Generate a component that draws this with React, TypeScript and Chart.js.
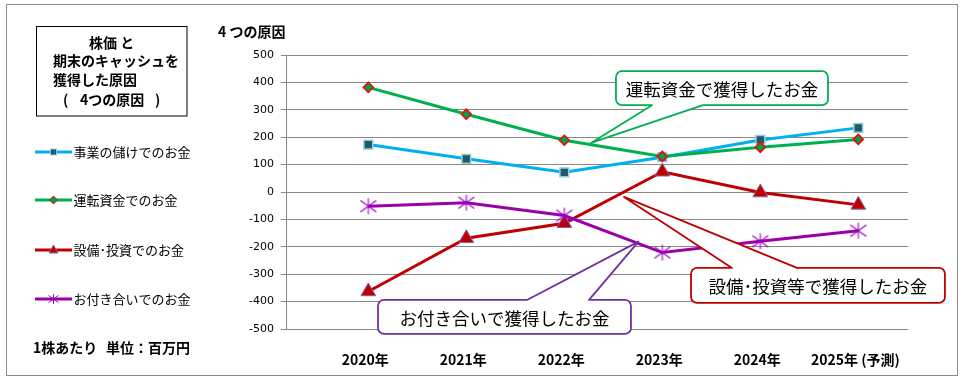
import { useEffect, useRef } from 'react';
import { Chart, registerables } from 'chart.js';

Chart.register(...registerables);

// ---------- data ----------
const categories = ['2020年', '2021年', '2022年', '2023年', '2024年', '2025年 (予測)'];
const seriesNames = ['事業の儲けでのお金', '運転資金でのお金', '設備･投資でのお金', 'お付き合いでのお金'];
const businessValues = [173, 121, 72, 127, 190, 234];
const workingCapitalValues = [382, 284, 189, 130, 163, 192];
const investmentValues = [-363, -169, -114, 74, -2, -47];
const relationshipValues = [-52, -39, -86, -221, -180, -141];
const yMin = -500;
const yMax = 500;
const yStep = 100;

// ---------- texts ----------
const chartTitle = '4 つの原因';
const boxLines = ['株価 と', '期末のキャッシュを', '獲得した原因'];
const unitPartA = '1株あたり';
const unitPartB = '単位：百万円';

// callouts anchored in data space (x = category index, y = value)
const callouts = [
  { text: '運転資金で獲得したお金', color: '#00B050', box: [2.527, 441, 4.691, 317], side: 'bottom', base: [2.895, 3.415], tip: [2.272, 179] },
  { text: '設備･投資等で獲得したお金', color: '#C00000', box: [3.293, -277, 5.884, -405], side: 'top', base: [3.711, 4.374], tip: [2.609, -18] },
  { text: 'お付き合いで獲得したお金', color: '#7030A0', box: [0.099, -394, 2.68, -518], side: 'top', base: [1.619, 2.252], tip: [2.757, -181] },
];

const JP = '"Noto Sans CJK JP", sans-serif';
const STAR_COLOR = '#9A00C4';

const toPoints = (vals: number[]) => vals.map((v, i) => ({ x: i, y: v }));

function strokeStar(g: CanvasRenderingContext2D, x: number, y: number, r: number, color: string, lw: number) {
  g.save();
  g.strokeStyle = color;
  g.lineWidth = lw;
  g.beginPath();
  g.moveTo(x, y - r);
  g.lineTo(x, y + r);
  const dx = r, dy = r * 0.72;
  g.moveTo(x - dx, y - dy);
  g.lineTo(x + dx, y + dy);
  g.moveTo(x + dx, y - dy);
  g.lineTo(x - dx, y + dy);
  g.stroke();
  g.restore();
}

function makeStar(size: number, color: string) {
  const c = document.createElement('canvas');
  c.width = size;
  c.height = size;
  const g = c.getContext('2d')!;
  strokeStar(g, size / 2, size / 2, size / 2 - 1, color, 1.1);
  return c;
}

function calloutPath(ctx: CanvasRenderingContext2D, l: number, t: number, r: number, b: number, rad: number,
  side: string, b1: number, b2: number, tx: number, ty: number) {
  ctx.beginPath();
  ctx.moveTo(l + rad, t);
  if (side === 'top') { ctx.lineTo(b1, t); ctx.lineTo(tx, ty); ctx.lineTo(b2, t); }
  ctx.lineTo(r - rad, t);
  ctx.arcTo(r, t, r, t + rad, rad);
  ctx.lineTo(r, b - rad);
  ctx.arcTo(r, b, r - rad, b, rad);
  if (side === 'bottom') { ctx.lineTo(b2, b); ctx.lineTo(tx, ty); ctx.lineTo(b1, b); }
  ctx.lineTo(l + rad, b);
  ctx.arcTo(l, b, l, b - rad, rad);
  ctx.lineTo(l, t + rad);
  ctx.arcTo(l, t, l + rad, t, rad);
  ctx.closePath();
}

function legendMarker(ctx: CanvasRenderingContext2D, i: number, x: number, y: number) {
  ctx.save();
  ctx.lineWidth = 1;
  if (i === 0) {
    ctx.fillStyle = '#215968';
    ctx.strokeStyle = '#93CDDD';
    ctx.fillRect(x - 3, y - 3, 6, 6);
    ctx.strokeRect(x - 3, y - 3, 6, 6);
  } else if (i === 1) {
    ctx.fillStyle = '#00A050';
    ctx.strokeStyle = '#FF0000';
    ctx.beginPath();
    ctx.moveTo(x, y - 4); ctx.lineTo(x + 4, y); ctx.lineTo(x, y + 4); ctx.lineTo(x - 4, y);
    ctx.closePath(); ctx.fill(); ctx.stroke();
  } else if (i === 2) {
    ctx.fillStyle = '#C00000';
    ctx.strokeStyle = '#8064A2';
    ctx.beginPath();
    ctx.moveTo(x, y - 5); ctx.lineTo(x + 4.5, y + 3); ctx.lineTo(x - 4.5, y + 3);
    ctx.closePath(); ctx.fill(); ctx.stroke();
  } else {
    strokeStar(ctx, x, y, 5, STAR_COLOR, 1);
  }
  ctx.restore();
}

const panelPlugin = {
  id: 'panel',
  beforeDraw(chart: any) {
    const ctx = chart.ctx as CanvasRenderingContext2D;
    ctx.save();
    ctx.fillStyle = '#ffffff';
    ctx.fillRect(0, 0, chart.width, chart.height);
    ctx.strokeStyle = '#8a8a8a';
    ctx.lineWidth = 1;
    ctx.strokeRect(6.5, 4.5, 951, 371);
    ctx.restore();
  },
  afterDraw(chart: any) {
    const ctx = chart.ctx as CanvasRenderingContext2D;
    const xs = chart.scales.x;
    const ys = chart.scales.y;
    ctx.save();

    // title box
    ctx.strokeStyle = '#000';
    ctx.lineWidth = 1;
    ctx.strokeRect(36.5, 26.5, 150.5, 89.5);
    ctx.fillStyle = '#000';
    ctx.textBaseline = 'middle';
    ctx.textAlign = 'left';
    ctx.font = `bold 14px ${JP}`;
    ctx.fillText(boxLines[0], 89, 43);
    ctx.fillText(boxLines[1], 53, 61);
    ctx.fillText(boxLines[2], 53, 80);
    ctx.fillText('(', 63, 100);
    ctx.fillText('4つの原因', 80, 100);
    ctx.fillText(')', 155, 100);

    // chart title
    ctx.font = `bold 14px ${JP}`;
    ctx.fillText(chartTitle, 218, 32);

    // legend
    const legendY = [152, 200, 250, 299];
    chart.data.datasets.forEach((ds: any, i: number) => {
      const y = legendY[i];
      ctx.strokeStyle = ds.borderColor;
      ctx.lineWidth = 3;
      ctx.beginPath();
      ctx.moveTo(35, y);
      ctx.lineTo(72, y);
      ctx.stroke();
      legendMarker(ctx, i, 53.5, y);
      ctx.fillStyle = '#000';
      ctx.font = `13px ${JP}`;
      ctx.fillText(ds.label, 73.5, y);
    });

    // unit note
    ctx.font = `bold 14px ${JP}`;
    ctx.fillText(unitPartA, 33, 348);
    ctx.fillText(unitPartB, 106, 348);

    // callouts
    callouts.forEach((c) => {
      const l = xs.getPixelForValue(c.box[0]);
      const r = xs.getPixelForValue(c.box[2]);
      const t = ys.getPixelForValue(c.box[1]);
      const b = ys.getPixelForValue(c.box[3]);
      const b1 = xs.getPixelForValue(c.base[0]);
      const b2 = xs.getPixelForValue(c.base[1]);
      const tx = xs.getPixelForValue(c.tip[0]);
      const ty = ys.getPixelForValue(c.tip[1]);
      calloutPath(ctx, l, t, r, b, 6, c.side, b1, b2, tx, ty);
      ctx.fillStyle = '#fff';
      ctx.fill();
      ctx.strokeStyle = c.color;
      ctx.lineWidth = 1.8;
      ctx.lineJoin = 'round';
      ctx.stroke();
      ctx.fillStyle = '#000';
      ctx.font = `17.5px ${JP}`;
      ctx.textAlign = 'center';
      ctx.textBaseline = 'middle';
      ctx.fillText(c.text, (l + r) / 2, (t + b) / 2 + 1);
      ctx.textAlign = 'left';
    });
    ctx.restore();
  },
};

export default function App() {
  const ref = useRef<HTMLCanvasElement>(null);
  useEffect(() => {
    const canvas = ref.current!;
    const star = makeStar(18, STAR_COLOR);
    const chart = new Chart(canvas, {
      type: 'line',
      data: {
        datasets: [
          {
            label: seriesNames[0], data: toPoints(businessValues), borderColor: '#00B0F0', borderWidth: 3,
            pointStyle: 'rect', pointRadius: 6.2, pointBackgroundColor: '#215968', pointBorderColor: '#93CDDD',
            pointBorderWidth: 1.5, order: 4, tension: 0,
          },
          {
            label: seriesNames[1], data: toPoints(workingCapitalValues), borderColor: '#00B050', borderWidth: 3,
            pointStyle: 'rectRot', pointRadius: 5, pointBackgroundColor: '#00A050', pointBorderColor: '#FF0000',
            pointBorderWidth: 1.5, order: 3, tension: 0,
          },
          {
            label: seriesNames[2], data: toPoints(investmentValues), borderColor: '#C00000', borderWidth: 3,
            pointStyle: 'triangle', pointRadius: 8.5, pointBackgroundColor: '#C00000', pointBorderColor: '#8064A2',
            pointBorderWidth: 1, order: 2, tension: 0,
          },
          {
            label: seriesNames[3], data: toPoints(relationshipValues), borderColor: '#9900A8', borderWidth: 3,
            pointStyle: star as any, pointRadius: 8, order: 1, tension: 0,
          },
        ],
      },
      options: {
        responsive: false,
        maintainAspectRatio: false,
        devicePixelRatio: 1,
        animation: false,
        events: [],
        layout: { padding: { left: 226, right: 55, top: 55, bottom: 0 } },
        plugins: { legend: { display: false }, tooltip: { enabled: false }, title: { display: false } },
        scales: {
          x: {
            type: 'linear',
            min: -0.84,
            max: 5.507,
            grid: { display: false, drawTicks: false },
            border: { display: false },
            ticks: {
              stepSize: 1,
              includeBounds: false,
              autoSkip: false,
              maxRotation: 0,
              color: '#000',
              font: { family: JP, size: 14, weight: 'bold' },
              padding: 22,
              labelOffset: -3,
              callback: (v: any) => categories[Math.round(Number(v))] ?? '',
            },
            afterFit: (s: any) => { s.height = 53; },
          },
          y: {
            type: 'linear',
            min: yMin,
            max: yMax,
            grid: { color: '#878787', lineWidth: 1, tickLength: 5, drawTicks: true },
            border: { color: '#878787', width: 1 },
            ticks: { stepSize: yStep, color: '#000', font: { family: '"DejaVu Sans", sans-serif', size: 11 }, padding: 7 },
            afterFit: (s: any) => { s.width = 60; },
          },
        },
      } as any,
      plugins: [panelPlugin],
    });
    return () => chart.destroy();
  }, []);

  return (
    <div style={{ position: 'fixed', left: 0, top: 0, width: 963, height: 382, background: '#fff' }}>
      <canvas ref={ref} width={963} height={382} style={{ display: 'block', width: 963, height: 382 }} />
    </div>
  );
}
